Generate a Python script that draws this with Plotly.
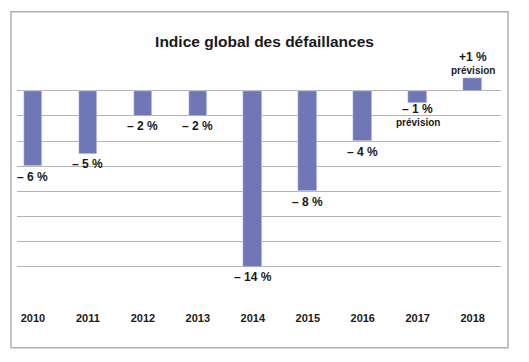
import plotly.graph_objects as go

years = ["2010", "2011", "2012", "2013", "2014", "2015", "2016", "2017", "2018"]
values = [-6, -5, -2, -2, -14, -8, -4, -1, 1]
labels = ["– 6 %", "– 5 %", "– 2 %", "– 2 %", "– 14 %", "– 8 %", "– 4 %", "– 1 %", "+1 %"]
notes = ["", "", "", "", "", "", "", "prévision", "prévision"]
grid_vals = [0, -2, -4, -6, -8, -10, -12, -14, -16]

BAR = "#6f77b6"
GRID = "#b4b4b4"
TXT = "#1a1a1a"
LABEL_FONT = "Liberation Sans, Arial"

fig = go.Figure()
fig.add_trace(go.Bar(x=years, y=values, marker_color=BAR, width=0.34, hoverinfo="skip"))

for i, (v, lab, note) in enumerate(zip(values, labels, notes)):
    neg = v < 0
    if neg:
        main_shift = -6 if note else -10.5
        note_shift = main_shift - 13.5
    else:
        note_shift = 8
        main_shift = note_shift + 13.5
    fig.add_annotation(
        x=i, y=v, xref="x", yref="y", text="<b>" + lab + "</b>", showarrow=False,
        yanchor="middle", yshift=main_shift, borderpad=0,
        font=dict(family=LABEL_FONT, size=12, color=TXT), align="center",
    )
    if note:
        fig.add_annotation(
            x=i, y=v, xref="x", yref="y", text="<b>" + note + "</b>", showarrow=False,
            yanchor="middle", yshift=note_shift, borderpad=0,
            font=dict(family=LABEL_FONT, size=10, color=TXT), align="center",
        )

# outer frame
fig.add_shape(type="rect", xref="paper", yref="paper", x0=-0.0124, x1=1.0145, y0=-0.233, y1=1.1728,
              line=dict(color="#b0b0b0", width=1.5), fillcolor="rgba(0,0,0,0)", layer="below")

fig.update_layout(
    width=529, height=362,
    margin=dict(l=17, r=28, t=53, b=70),
    paper_bgcolor="white", plot_bgcolor="white",
    showlegend=False,
    title=dict(text="<b>Indice global des défaillances</b>", x=0.5, xanchor="center",
               y=1 - 41.7 / 362, yanchor="middle",
               font=dict(family="Liberation Sans, Arial", size=15.5, color=TXT)),
    xaxis=dict(type="category", range=[-0.29, 8.515], showgrid=False, zeroline=False, showline=False,
               ticks="", ticklabelstandoff=18, tickprefix="<b>", ticksuffix="</b>",
               tickfont=dict(family="Liberation Sans, Arial", size=11, color=TXT)),
    yaxis=dict(range=[-16, 3], tickvals=grid_vals, showticklabels=False, showgrid=True,
               gridcolor=GRID, gridwidth=1, zeroline=False, showline=False, ticks=""),
    bargap=0,
)
fig.write_html("out.html", config={"displayModeBar": False},
               post_script="document.body.style.margin='0';document.body.style.padding='0';")
